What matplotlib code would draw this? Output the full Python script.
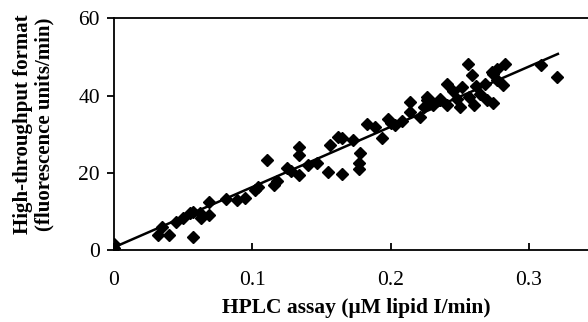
import numpy as np
import matplotlib
matplotlib.use('Agg')
import matplotlib.pyplot as plt

# HPLC assay (uM lipid I/min) vs high-throughput format (fluorescence units/min)
hplc = [0.000, 0.000, 0.032, 0.035, 0.040, 0.045, 0.050, 0.055, 0.057, 0.057,
        0.062, 0.063, 0.069, 0.069, 0.081, 0.089, 0.095, 0.102, 0.104, 0.111,
        0.116, 0.118, 0.125, 0.128, 0.134, 0.134, 0.134, 0.140, 0.147, 0.156,
        0.155, 0.162, 0.165, 0.165, 0.173, 0.178, 0.177, 0.177, 0.183, 0.189,
        0.194, 0.198, 0.203, 0.200, 0.208, 0.214, 0.214, 0.221, 0.224, 0.226,
        0.226, 0.231, 0.231, 0.236, 0.236, 0.241, 0.241, 0.245, 0.248, 0.250,
        0.252, 0.256, 0.257, 0.259, 0.260, 0.262, 0.265, 0.268, 0.270, 0.273,
        0.274, 0.274, 0.277, 0.277, 0.281, 0.283, 0.309, 0.320]
htf = [0.5, 1.5, 3.9, 6.0, 3.9, 7.3, 8.2, 9.5, 9.9, 3.4,
       9.5, 8.2, 9.0, 12.5, 13.3, 12.9, 13.5, 15.5, 16.2, 23.3,
       16.8, 17.8, 21.2, 20.5, 26.7, 24.5, 19.4, 22.0, 22.4, 27.1,
       20.2, 29.3, 19.8, 29.0, 28.4, 25.0, 22.4, 21.0, 32.7, 31.9,
       28.9, 34.0, 32.3, 33.0, 33.5, 38.3, 35.7, 34.4, 37.0, 38.8,
       39.6, 37.5, 38.0, 39.2, 38.8, 37.5, 43.0, 41.3, 39.2, 37.0,
       42.2, 48.2, 39.6, 45.2, 37.5, 42.5, 40.5, 43.0, 38.8, 46.0,
       38.0, 45.7, 43.9, 47.0, 42.6, 48.2, 47.8, 44.8]

# linear fit drawn through the data
fit_slope = 156.0
fit_intercept = 0.7
fit_range = [0.0, 0.321]

plt.rcParams['font.family'] = ['Liberation Serif', 'DejaVu Serif']

fig = plt.figure(figsize=(5.88, 3.22), dpi=100)
ax = fig.add_axes([114 / 588, 72 / 322, 484 / 588, 231.7 / 322])

ax.plot(hplc, htf, linestyle='none', marker='D', markersize=6.3, color='black')
fx = np.array(fit_range)
ax.plot(fx, fit_slope * fx + fit_intercept, color='black', linewidth=1.8)

ax.set_xlim(0, 0.35)
ax.set_ylim(0, 60)
ax.set_xticks([0, 0.1, 0.2, 0.3])
ax.set_xticklabels(['0', '0.1', '0.2', '0.3'])
ax.set_yticks([0, 20, 40, 60])

for s in ax.spines.values():
    s.set_linewidth(1.3)
ax.spines['right'].set_visible(False)

ax.tick_params(axis='x', direction='in', length=5, width=1.3, labelsize=15.5, pad=15)
ax.tick_params(axis='y', direction='out', length=5, width=1.3, labelsize=15.5, pad=5)

ax.set_xlabel('HPLC assay (\u03bcM lipid I/min)', fontsize=15.5, fontweight='bold', labelpad=6)
fig.text(34 / 588, 1 - 124 / 322, 'High-throughput format\n(fluorescence units/min)',
         rotation=90, ha='center', va='center', fontsize=15, fontweight='bold',
         linespacing=1.1)

fig.savefig('out.png', dpi=100)
